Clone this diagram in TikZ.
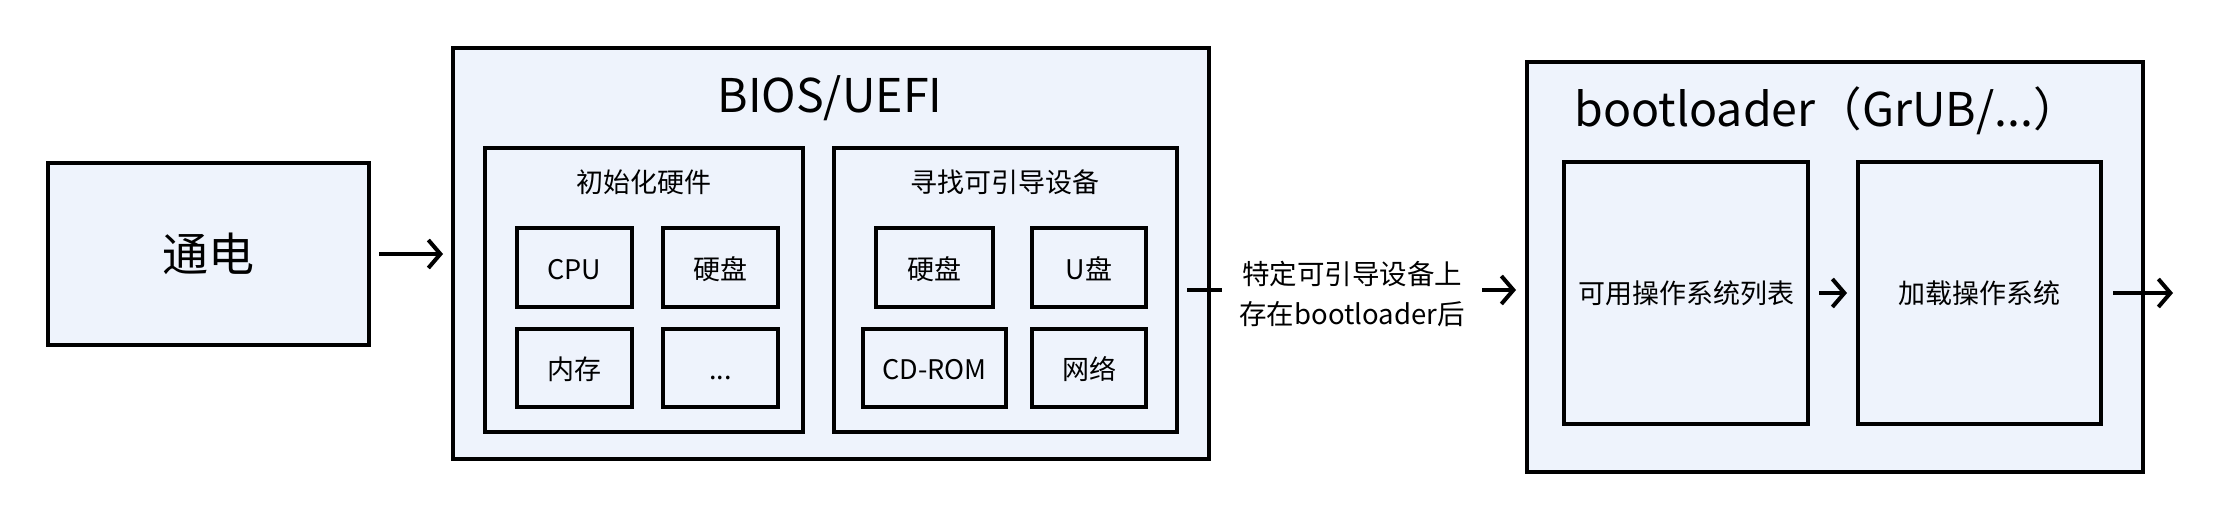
\documentclass[tikz,border=0pt]{standalone}
\usepackage{fontspec}
\setmainfont{Noto Sans CJK SC}
\usetikzlibrary{arrows.meta}
\definecolor{boxfill}{HTML}{EEF3FC}
\tikzset{
  box/.style={draw=black, line width=4pt, fill=boxfill, inner sep=0pt},
  conn/.style={line width=4pt, -{Straight Barb[length=12pt, width=28pt, line width=4pt]}},
  small/.style={font=\fontsize{27}{32}\selectfont},
  sbox/.style={box, small, text height=24pt, text depth=1pt},
  big/.style={font=\fontsize{46.5}{54}\selectfont},
}
\begin{document}
\begin{tikzpicture}[x=1pt, y=-1pt]
\useasboundingbox (0,0) rectangle (2238,522);
% power
\node[box, minimum width=321pt, minimum height=182pt, font=\fontsize{46}{54}\selectfont] (power) at (208.5,254) {通电};
% BIOS
\node[box, minimum width=756pt, minimum height=411pt] (bios) at (831,253.5) {};
\node[big] (biost) at (830,98) {BIOS/UEFI};
\node[box, minimum width=318pt, minimum height=284pt] (init) at (644,290) {};
\node[small] (initt) at (644,182) {初始化硬件};
\node[sbox, minimum width=115pt, minimum height=79pt] (cpu) at (574,267.5) {CPU};
\node[sbox, minimum width=115pt, minimum height=79pt] (hd1) at (720.5,267.5) {硬盘};
\node[sbox, minimum width=115pt, minimum height=78pt] (mem) at (574,368) {内存};
\node[sbox, minimum width=115pt, minimum height=78pt] (etc) at (720.5,368) {...};
\node[box, minimum width=343pt, minimum height=284pt] (find) at (1005.5,290) {};
\node[small] (findt) at (1005,182) {寻找可引导设备};
\node[sbox, minimum width=117pt, minimum height=79pt] (hd2) at (934.5,267.5) {硬盘};
\node[sbox, minimum width=114pt, minimum height=79pt] (usb) at (1089,267.5) {U盘};
\node[sbox, minimum width=143pt, minimum height=78pt] (cd) at (934.5,368) {CD-ROM};
\node[sbox, minimum width=114pt, minimum height=78pt] (net) at (1089,368) {网络};
% bootloader
\node[box, minimum width=616pt, minimum height=410pt] (boot) at (1835,267) {};
\node[big, anchor=west] (boott) at (1571,111) {bootloader（GrUB/...）};
\node[box, small, minimum width=244pt, minimum height=262pt] (list) at (1686,293) {可用操作系统列表};
\node[box, small, minimum width=243pt, minimum height=262pt] (load) at (1979.5,293) {加载操作系统};
\coordinate (out) at (2173,293);
% connectors
\draw[conn, shorten <=8pt, shorten >=8pt] (power) -- (bios.west |- power);
\draw[conn, shorten <=8pt, shorten >=9pt] (find.east |- 0,290) -- node[fill=white, align=center, inner xsep=17pt, inner ysep=2pt, yshift=-4pt, font=\fontsize{27.5}{40}\selectfont] (lbl) {特定可引导设备上\\存在bootloader后} (boot.west |- 0,290);
\draw[conn, shorten <=9pt, shorten >=9pt] (list) -- (load);
\draw[conn, shorten <=10pt] (load) -- (out);
\end{tikzpicture}
\end{document}
